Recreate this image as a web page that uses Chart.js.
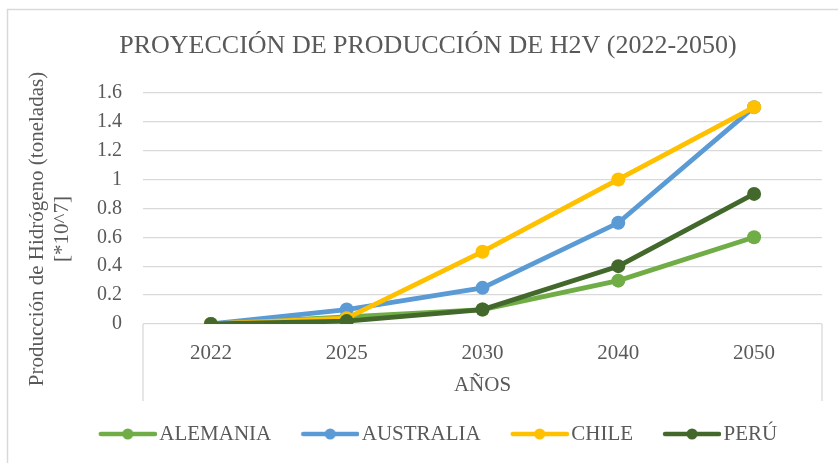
<!DOCTYPE html>
<html><head><meta charset="utf-8">
<script src="https://cdn.jsdelivr.net/npm/chart.js@4.4.1/dist/chart.umd.min.js"></script>
<style>html,body{margin:0;padding:0;background:#fff;}#wrap{width:838px;height:463px;position:relative;}</style>
</head><body><div id="wrap"><canvas id="c" width="838" height="463"></canvas></div>
<script>
const categories = ['2022', '2025', '2030', '2040', '2050'];
const alemania = [0, 0.05, 0.1, 0.3, 0.6];
const australia = [0, 0.1, 0.25, 0.7, 1.5];
const chile = [0, 0.04, 0.5, 1.0, 1.5];
const peru = [0, 0.02, 0.1, 0.4, 0.9];
const seriesNames = ['ALEMANIA', 'AUSTRALIA', 'CHILE', 'PERÚ'];
const seriesColors = ['#70AD47', '#5B9BD5', '#FFC000', '#43682B'];
const yTickLabels = ['0', '0.2', '0.4', '0.6', '0.8', '1', '1.2', '1.4', '1.6'];
const chartTitle = 'PROYECCIÓN DE PRODUCCIÓN DE H2V (2022-2050)';
const yTitle = ['Producción de Hidrógeno (toneladas)', '[*10^7]'];
const xTitle = 'AÑOS';

const FONT = "'Liberation Serif', 'Times New Roman', serif";
const TXT = '#595959';
const GRID = '#d9d9d9';

function legendImg(color) {
  const c = document.createElement('canvas');
  c.width = 86; c.height = 16;
  const g = c.getContext('2d');
  g.strokeStyle = color; g.lineWidth = 4.5; g.lineCap = 'round';
  g.beginPath(); g.moveTo(30, 8); g.lineTo(84, 8); g.stroke();
  g.fillStyle = color; g.beginPath(); g.arc(57, 8, 5.5, 0, Math.PI * 2); g.fill();
  return c;
}
const legendImgs = seriesColors.map(legendImg);

const seriesData = [alemania, australia, chile, peru];
const datasets = seriesNames.map((n, i) => ({
  label: n,
  data: seriesData[i],
  borderColor: seriesColors[i],
  backgroundColor: seriesColors[i],
  borderWidth: 4.8,
  pointRadius: 7,
  pointHoverRadius: 7,
  pointBorderWidth: 0,
  tension: 0,
  order: seriesNames.length - i
}));

const decor = {
  id: 'decor',
  beforeDatasetsDraw(chart) {
    const {ctx, chartArea: a} = chart;
    ctx.save();
    ctx.strokeStyle = GRID; ctx.lineWidth = 1.3;
    ctx.beginPath();
    ctx.moveTo(a.left, a.bottom); ctx.lineTo(a.left, a.bottom + 77);
    ctx.moveTo(a.right, a.bottom); ctx.lineTo(a.right, a.bottom + 77);
    ctx.stroke();
    ctx.lineWidth = 1.5;
    ctx.beginPath();
    ctx.moveTo(7.5, chart.height); ctx.lineTo(7.5, 9.5); ctx.lineTo(chart.width, 9.5);
    ctx.stroke();
    // y axis title
    ctx.fillStyle = TXT;
    ctx.font = '21px ' + FONT;
    ctx.textAlign = 'center'; ctx.textBaseline = 'middle';
    ctx.translate(37, 229);
    ctx.rotate(-Math.PI / 2);
    yTitle.forEach((t, i) => ctx.fillText(t, 0, i * 25));
    ctx.restore();
  }
};

new Chart(document.getElementById('c'), {
  type: 'line',
  data: {labels: categories, datasets},
  plugins: [decor],
  options: {
    responsive: false,
    devicePixelRatio: 1,
    animation: false,
    layout: {padding: {left: 34, right: 16, top: 0, bottom: 8.5}},
    plugins: {
      title: {
        display: true, text: chartTitle, color: TXT,
        font: {family: FONT, size: 26, weight: 'normal'},
        padding: {top: 31, bottom: 30.5}
      },
      legend: {
        display: true, position: 'bottom',
        labels: {
          color: TXT,
          font: {family: FONT, size: 21},
          usePointStyle: true,
          pointStyleWidth: 70,
          padding: 10,
          sort: (a, b) => a.datasetIndex - b.datasetIndex,
          generateLabels(chart) {
            const items = Chart.defaults.plugins.legend.labels.generateLabels(chart);
            items.forEach(it => { it.pointStyle = legendImgs[it.datasetIndex]; });
            return items;
          }
        }
      },
      tooltip: {enabled: false}
    },
    scales: {
      x: {
        type: 'category',
        offset: true,
        grid: {display: false, drawTicks: false},
        border: {display: false},
        ticks: {color: TXT, font: {family: FONT, size: 21}, padding: 17, maxRotation: 0},
        title: {display: true, text: xTitle, color: TXT, font: {family: FONT, size: 21}, padding: {top: 0, bottom: 15}},
        afterFit(s) { s.height = 89.5; }
      },
      y: {
        min: 0, max: 1.6,
        grid: {color: GRID, lineWidth: 1.3, drawTicks: false},
        border: {display: false},
        ticks: {
          stepSize: 0.2, color: TXT, font: {family: FONT, size: 20}, padding: 21,
          callback: (v) => yTickLabels[Math.round(v * 5)]
        },
        afterFit(s) { s.width = 109; }
      }
    }
  }
});
</script>
</body></html>
